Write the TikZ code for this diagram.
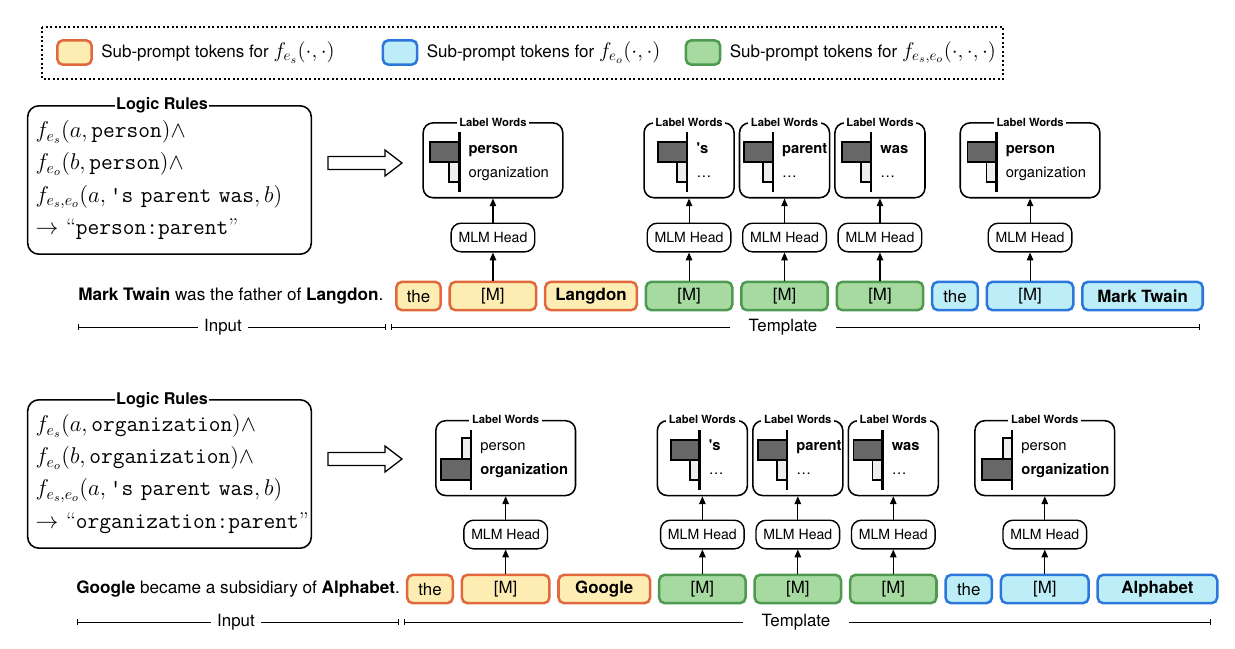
\documentclass[tikz,border=0pt]{standalone}
\usepackage{fix-cm}
\usepackage{amsmath}
\usepackage{xcolor}
\usepackage{fontspec}
\setsansfont{TeX Gyre Heros}
\renewcommand{\familydefault}{\sfdefault}
\usepackage{tikz}
\usetikzlibrary{calc,positioning,arrows.meta}

\definecolor{orfill}{HTML}{FEEDB3}
\definecolor{ordraw}{HTML}{E2693E}
\definecolor{blfill}{HTML}{BDEEF8}
\definecolor{bldraw}{HTML}{2B78DA}
\definecolor{grfill}{HTML}{A6DAA1}
\definecolor{grdraw}{HTML}{4D9A50}
\definecolor{bardark}{HTML}{676767}
\definecolor{barlight}{HTML}{EEEEEE}

\tikzset{
  swatch/.style={draw, line width=1.8pt, rounded corners=4pt, minimum width=0.86cm, minimum height=0.61cm, inner sep=0pt},
  legtext/.style={inner sep=0pt, font=\sffamily\fontsize{12.1}{15}\selectfont},
  rulebox/.style={draw, line width=1.1pt, rounded corners=8pt, minimum width=7.09cm, minimum height=3.71cm, inner xsep=0.2cm, text width=6.69cm, align=left, font=\rmfamily\fontsize{16.2}{22.8}\selectfont},
  rtitle/.style={fill=white, inner xsep=1pt, inner ysep=1pt, font=\sffamily\fontsize{11.5}{13}\selectfont\bfseries},
  hollow/.style={draw, line width=0.9pt, line join=miter},
  sent/.style={anchor=west, inner sep=0pt, font=\sffamily\fontsize{12.2}{14}\selectfont},
  tok/.style={draw, line width=1.8pt, rounded corners=4pt, minimum height=0.71cm, inner sep=0pt, font=\sffamily\fontsize{12}{14}\selectfont},
  otok/.style={tok, fill=orfill, draw=ordraw},
  gtok/.style={tok, fill=grfill, draw=grdraw, minimum width=2.16cm},
  btok/.style={tok, fill=blfill, draw=bldraw},
  mlm/.style={draw, line width=1pt, rounded corners=7pt, minimum width=2.09cm, minimum height=0.715cm, inner sep=0pt, font=\sffamily\fontsize{10}{12}\selectfont},
  lwbox/.style={draw, line width=1.1pt, rounded corners=7pt, minimum width=2.25cm, minimum height=1.87cm},
  lwwide/.style={lwbox, minimum width=3.49cm},
  lwtitle/.style={fill=white, inner xsep=2pt, inner ysep=0.5pt, font=\sffamily\fontsize{8}{9}\selectfont\bfseries},
  lwword/.style={anchor=base west, inner sep=0pt, font=\sffamily\fontsize{10.5}{12}\selectfont},
  bar/.style={draw, line width=1.4pt},
  baraxis/.style={line width=1.7pt},
  up/.style={-{Triangle[length=5.5pt,width=4.6pt]}, line width=0.8pt},
  span/.style={line width=0.7pt},
  spanlab/.style={inner ysep=0pt, font=\sffamily\fontsize{12}{14}\selectfont},
}

\begin{document}
\begin{tikzpicture}[x=0.025cm, y=-0.025cm, font=\sffamily, node distance=0.1625cm]
    \useasboundingbox (0,0) rectangle (1235,649);

    % legend
    \draw[dash pattern=on 1.2pt off 2pt, line width=0.9pt] (42,27) rectangle (1003,79);
    \node (swO) [swatch, fill=orfill, draw=ordraw] at (74.5,52.5) {};
    \node (lgO) [legtext, right=0.2cm of swO] {Sub-prompt tokens for {\fontsize{15}{18}\selectfont$f_{e_s}(\cdot,\cdot)$}};
    \node (swB) [swatch, fill=blfill, draw=bldraw] at (400,52.5) {};
    \node (lgB) [legtext, right=0.2cm of swB] {Sub-prompt tokens for {\fontsize{15}{18}\selectfont$f_{e_o}(\cdot,\cdot)$}};
    \node (swG) [swatch, fill=grfill, draw=grdraw] at (703,52.5) {};
    \node (lgG) [legtext, right=0.2cm of swG] {Sub-prompt tokens for {\fontsize{15}{18}\selectfont$f_{e_s,e_o}(\cdot,\cdot,\cdot)$}};

    % first example
    \node (rulesA) [rulebox] at (169.5,180) {$f_{e_s}(a,\texttt{person})\wedge$\\
        $f_{e_o}(b,\texttt{person})\wedge$\\
        $f_{e_s,e_o}(a,\texttt{'s parent was},b)$\\
        $\rightarrow$~``\texttt{person:parent}''};
    \node (rulesA-t) [rtitle] at (162,105) {Logic Rules};
    \coordinate (impA) at (328,163);
    \draw[hollow] ($(impA)+(0,-6.5)$) -- ++(57,0) -- ++(0,-6.5) -- ++(17,13) -- ++(-17,13) -- ++(0,-6.5) -- ++(-57,0) -- cycle;

    \node (sentA) [sent] at (78,296) {\textbf{Mark Twain} was the father of \textbf{Langdon}.};
    \node (tA1) [otok, minimum width=1.11cm] at (418.5,296) {the};
    \node (tA2) [otok, minimum width=2.16cm, right=of tA1] {[M]};
    \node (tA3) [otok, minimum width=2.29cm, right=of tA2] {\textbf{Langdon}};
    \node (tA4) [gtok, right=of tA3] {[M]};
    \node (tA5) [gtok, right=of tA4] {[M]};
    \node (tA6) [gtok, right=of tA5] {[M]};
    \node (tA7) [btok, minimum width=1.14cm, right=of tA6] {the};
    \node (tA8) [btok, minimum width=2.16cm, right=of tA7] {[M]};
    \node (tA9) [btok, minimum width=3.01cm, right=of tA8] {\textbf{Mark Twain}};

    \node (mA1) [mlm, above=0.7cm of tA2] {MLM Head};
    \node (mA2) [mlm, above=0.7cm of tA4] {MLM Head};
    \node (mA3) [mlm, above=0.7cm of tA5] {MLM Head};
    \node (mA4) [mlm, above=0.7cm of tA6] {MLM Head};
    \node (mA5) [mlm, above=0.7cm of tA8] {MLM Head};
    \node (lwA1) [lwwide, above=0.6cm of mA1] {};
    \node (lwA2) [lwbox, above=0.6cm of mA2] {};
    \node (lwA3) [lwbox, above=0.6cm of mA3] {};
    \node (lwA4) [lwbox, above=0.6cm of mA4] {};
    \node (lwA5) [lwwide, above=0.6cm of mA5] {};
    \draw[up] (tA2) -- (mA1); \draw[up] (mA1) -- (lwA1);
    \draw[up] (tA4) -- (mA2); \draw[up] (mA2) -- (lwA2);
    \draw[up] (tA5) -- (mA3); \draw[up] (mA3) -- (lwA3);
    \draw[up] (tA6) -- (mA4); \draw[up] (mA4) -- (lwA4);
    \draw[up] (tA8) -- (mA5); \draw[up] (mA5) -- (lwA5);

    \coordinate (inA-l) at (78,327); \coordinate (inA-r) at (386,327);
    \node (inA) [spanlab, inner xsep=0.15cm] at (223,327) {Input};
    \draw[span, {Bar[width=4.5pt]}-] (inA-l) -- (inA);
    \draw[span, -{Bar[width=4.5pt]}] (inA) -- (inA-r);
    \coordinate (tmA-l) at (391,327); \coordinate (tmA-r) at (1200,327);
    \node (tmA) [spanlab, inner xsep=0.47cm] at (783,327) {Template};
    \draw[span, {Bar[width=4.5pt]}-] (tmA-l) -- (tmA);
    \draw[span, -{Bar[width=4.5pt]}] (tmA) -- (tmA-r);

    % second example
    \node (rulesB) [rulebox] at (169.5,474) {$f_{e_s}(a,\texttt{organization})\wedge$\\
        $f_{e_o}(b,\texttt{organization})\wedge$\\
        $f_{e_s,e_o}(a,\texttt{'s parent was},b)$\\
        $\rightarrow$~``\texttt{organization:parent}''};
    \node (rulesB-t) [rtitle] at (162,400) {Logic Rules};
    \coordinate (impB) at (328,459);
    \draw[hollow] ($(impB)+(0,-6.5)$) -- ++(57,0) -- ++(0,-6.5) -- ++(17,13) -- ++(-17,13) -- ++(0,-6.5) -- ++(-57,0) -- cycle;

    \node (sentB) [sent] at (76,589) {\textbf{Google} became a subsidiary of \textbf{Alphabet}.};
    \node (tB1) [otok, minimum width=1.14cm] at (430,589) {the};
    \node (tB2) [otok, minimum width=2.19cm, right=of tB1] {[M]};
    \node (tB3) [otok, minimum width=2.29cm, right=of tB2] {\textbf{Google}};
    \node (tB4) [gtok, right=of tB3] {[M]};
    \node (tB5) [gtok, right=of tB4] {[M]};
    \node (tB6) [gtok, right=of tB5] {[M]};
    \node (tB7) [btok, minimum width=1.16cm, right=of tB6] {the};
    \node (tB8) [btok, minimum width=2.19cm, right=of tB7] {[M]};
    \node (tB9) [btok, minimum width=2.99cm, right=of tB8] {\textbf{Alphabet}};

    \node (mB1) [mlm, above=0.6cm of tB2] {MLM Head};
    \node (mB2) [mlm, above=0.6cm of tB4] {MLM Head};
    \node (mB3) [mlm, above=0.6cm of tB5] {MLM Head};
    \node (mB4) [mlm, above=0.6cm of tB6] {MLM Head};
    \node (mB5) [mlm, above=0.6cm of tB8] {MLM Head};
    \node (lwB1) [lwwide, above=0.58cm of mB1] {};
    \node (lwB2) [lwbox, above=0.58cm of mB2] {};
    \node (lwB3) [lwbox, above=0.58cm of mB3] {};
    \node (lwB4) [lwbox, above=0.58cm of mB4] {};
    \node (lwB5) [lwwide, above=0.58cm of mB5] {};
    \draw[up] (tB2) -- (mB1); \draw[up] (mB1) -- (lwB1);
    \draw[up] (tB4) -- (mB2); \draw[up] (mB2) -- (lwB2);
    \draw[up] (tB5) -- (mB3); \draw[up] (mB3) -- (lwB3);
    \draw[up] (tB6) -- (mB4); \draw[up] (mB4) -- (lwB4);
    \draw[up] (tB8) -- (mB5); \draw[up] (mB5) -- (lwB5);

    \coordinate (inB-l) at (77,622); \coordinate (inB-r) at (399,622);
    \node (inB) [spanlab, inner xsep=0.15cm] at (236,622) {Input};
    \draw[span, {Bar[width=4.5pt]}-] (inB-l) -- (inB);
    \draw[span, -{Bar[width=4.5pt]}] (inB) -- (inB-r);
    \coordinate (tmB-l) at (404,622); \coordinate (tmB-r) at (1211,622);
    \node (tmB) [spanlab, inner xsep=0.47cm] at (796,622) {Template};
    \draw[span, {Bar[width=4.5pt]}-] (tmB-l) -- (tmB);
    \draw[span, -{Bar[width=4.5pt]}] (tmB) -- (tmB-r);

    % label words: titles and bars
    \foreach \lw in {lwA1,lwA2,lwA3,lwA4,lwA5,lwB1,lwB2,lwB3,lwB4,lwB5}
        \node (\lw-t) [lwtitle] at (\lw.north) {Label Words};
    \foreach \lw/\ax/\wa/\wb in {lwA1/37/\textbf{person}/organization, lwA2/44/\textbf{\textquotesingle s}/\ldots,
        lwA3/34/\textbf{parent}/\ldots, lwA4/37/\textbf{was}/\ldots, lwA5/37/\textbf{person}/organization,
        lwB2/43/\textbf{\textquotesingle s}/\ldots, lwB3/35/\textbf{parent}/\ldots, lwB4/35/\textbf{was}/\ldots} {
        \draw[bar, fill=bardark] ($(\lw.north west)+(\ax-29,20)$) rectangle ($(\lw.north west)+(\ax,40)$);
        \draw[bar, fill=barlight] ($(\lw.north west)+(\ax-10,40)$) rectangle ($(\lw.north west)+(\ax,60)$);
        \draw[baraxis] ($(\lw.north west)+(\ax,10)$) -- ++(0,60);
        \node (\lw-a) [lwword] at ($(\lw.north west)+(\ax+9,31)$) {\wa};
        \node (\lw-b) [lwword] at ($(\lw.north west)+(\ax+9,55)$) {\wb};
    }
    \foreach \lw/\ax in {lwB1/36, lwB5/38} {
        \draw[bar, fill=barlight] ($(\lw.north west)+(\ax-9,18)$) rectangle ($(\lw.north west)+(\ax,39)$);
        \draw[bar, fill=bardark] ($(\lw.north west)+(\ax-30,39)$) rectangle ($(\lw.north west)+(\ax,60)$);
        \draw[baraxis] ($(\lw.north west)+(\ax,10)$) -- ++(0,60);
        \node (\lw-a) [lwword] at ($(\lw.north west)+(\ax+9,31)$) {person};
        \node (\lw-b) [lwword] at ($(\lw.north west)+(\ax+9,55)$) {\textbf{organization}};
    }
\end{tikzpicture}
\end{document}
